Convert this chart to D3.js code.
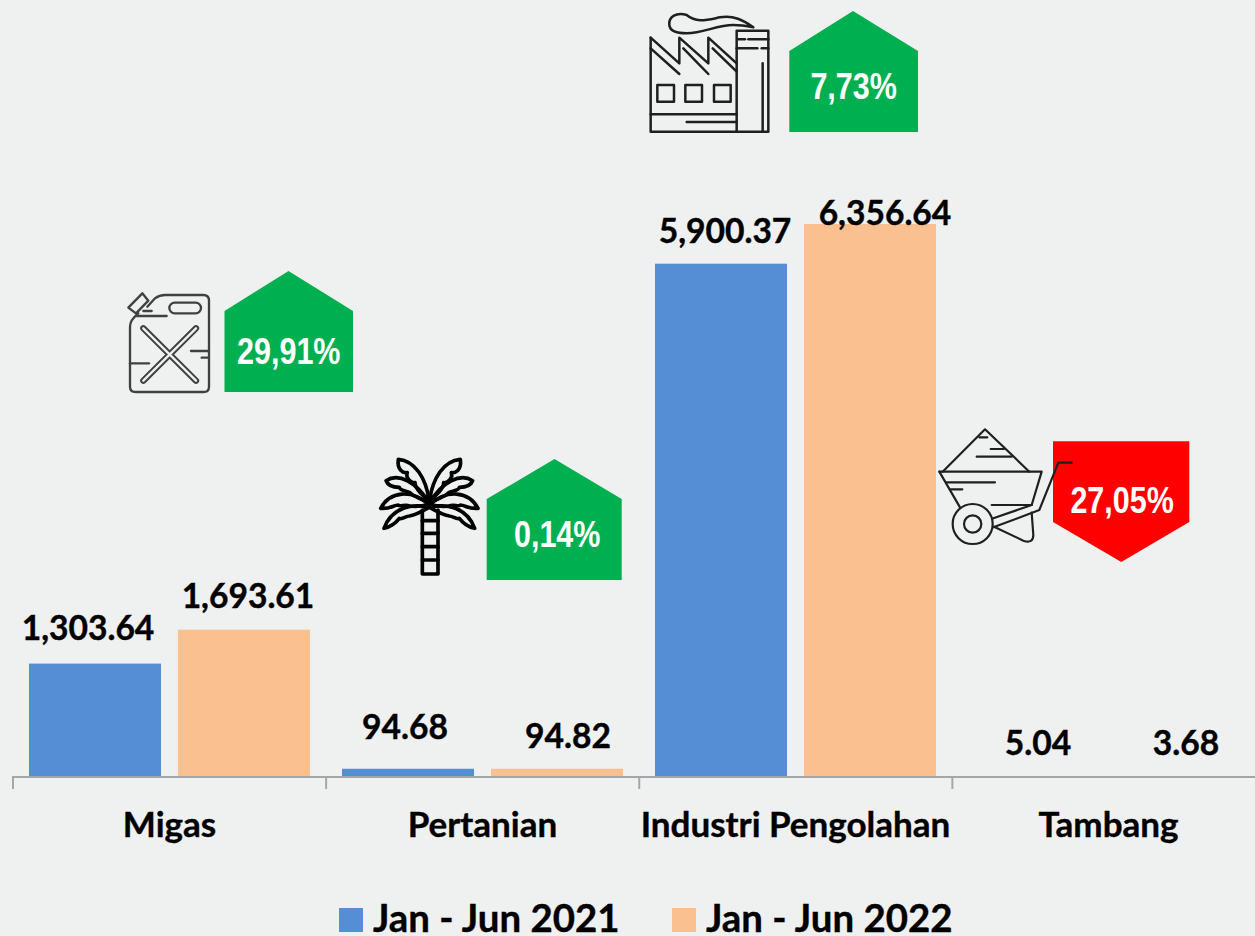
<!DOCTYPE html>
<html><head><meta charset="utf-8">
<script src="https://cdn.jsdelivr.net/npm/d3@7/dist/d3.min.js"></script>
<style>html,body{margin:0;padding:0;background:#eff1f0;overflow:hidden}svg{display:block}
text{font-family:Lato,"Open Sans",sans-serif;font-weight:700;fill:#000}</style></head>
<body><svg id="c" width="1255" height="936"></svg>
<script>
const categories = ["Migas","Pertanian","Industri Pengolahan","Tambang"];
const seriesNames = ["Jan - Jun 2021","Jan - Jun 2022"];
const values2021 = [1303.64,94.68,5900.37,5.04];
const values2022 = [1693.61,94.82,6356.64,3.68];
const changeLabels = ["29,91%","0,14%","7,73%","27,05%"];
const changeDirections = ["up","up","up","down"];

const colors = ["#558ed5","#fac090"];
const bg = "#eff1f0";
const svg = d3.select("#c");
svg.append("rect").attr("width",1255).attr("height",936).attr("fill",bg);

const baseY = 777;
const x0 = d3.scaleBand().domain(categories).range([12,1264]).paddingInner(0).paddingOuter(0);
const x1 = d3.scaleBand().domain([0,1]).range([17,298]).paddingInner(0.114).paddingOuter(0);
const y = d3.scaleLinear().domain([0,6356.64]).range([baseY,224]);
const series = [values2021,values2022];

// bars
series.forEach((vals,s)=>{
  svg.append("g").selectAll("rect").data(vals).join("rect")
    .attr("x",(d,i)=>x0(categories[i])+x1(s))
    .attr("width",x1.bandwidth())
    .attr("y",d=>y(d))
    .attr("height",d=>baseY-y(d))
    .attr("fill",colors[s]);
});

// axis: separators
const edges = d3.scaleLinear().domain([0,4]).range([12.5,1265]);
const sepAxis = d3.axisBottom(edges).tickValues([0,1,2,3]).tickSize(12).tickFormat("");
const gSep = svg.append("g").attr("transform",`translate(0,${baseY})`).call(sepAxis);
gSep.select(".domain").attr("d","M12,0H1255").attr("stroke","#a6a6a6").attr("stroke-width",2);
gSep.selectAll(".tick line").attr("stroke","#a6a6a6").attr("stroke-width",2);
// axis: labels
const xLab = d3.scaleBand().domain(categories).range([13,1265]);
const labAxis = d3.axisBottom(xLab).tickSize(0).tickPadding(35);
const gLab = svg.append("g").attr("transform",`translate(0,${baseY})`).call(labAxis);
gLab.select(".domain").remove();
gLab.selectAll("text").attr("font-size",35).style("font-family","Lato").style("font-weight",700)
  .attr("fill","#000").attr("stroke","#000").attr("stroke-width",0.4).attr("dy","0.71em");

// value labels (hand-placed in the original, hence offsets from bar centre / baseline)
const labelDx = [[-7,4],[-3,11],[4,15],[4,3]];
const labelBase = [[640,608],[739,748],[243,225],[755,755]];
const fmt = d3.format(",.2f");
series.forEach((vals,s)=>{
  svg.append("g").selectAll("text").data(vals).join("text")
    .attr("x",(d,i)=>x0(categories[i])+x1(s)+x1.bandwidth()/2+labelDx[i][s])
    .attr("y",(d,i)=>labelBase[i][s])
    .attr("text-anchor","middle").attr("font-size",33.6)
    .attr("stroke","#000").attr("stroke-width",0.4)
    .text(d=>fmt(d));
});

// legend
const legendX = [339,672], legendTextX=[373,706];
seriesNames.forEach((n,i)=>{
  svg.append("rect").attr("x",legendX[i]).attr("y",908).attr("width",24).attr("height",24).attr("fill",colors[i]);
  svg.append("text").attr("x",legendTextX[i]).attr("y",932).attr("font-size",38.4)
    .attr("stroke","#000").attr("stroke-width",0.4).text(n);
});

// badges
const badges = [
  {l:224.5,r:353,p:288.5,t:271,b:392,tx:0,ty:364},
  {l:486.7,r:621.7,p:554.5,t:459,b:580,tx:3,ty:547},
  {l:789.3,r:918,p:853,t:11,b:132,tx:0,ty:99},
  {l:1053,r:1189.3,p:1121.3,t:441.3,b:562,tx:1,ty:513}
];
badges.forEach((b,i)=>{
  const up = changeDirections[i]==="up";
  const pts = up
    ? [[b.l,b.b],[b.l,b.t+40],[b.p,b.t],[b.r,b.t+40],[b.r,b.b]]
    : [[b.l,b.t],[b.r,b.t],[b.r,b.b-40],[b.p,b.b],[b.l,b.b-40]];
  svg.append("path").attr("d",d3.line()(pts)+"Z").attr("fill",up?"#00b050":"#ff0000");
  svg.append("text").attr("transform",`translate(${(b.l+b.r)/2+b.tx},${b.ty}) scale(0.825,1)`)
    .attr("text-anchor","middle").attr("font-size",37)
    .style("font-family",'"Liberation Sans"').style("fill","#fff")
    .text(changeLabels[i]);
});

// icons: drawn in crop coordinates (3x) then scaled
function icon(tx,ty,color,sw){
  return svg.append("g").attr("transform",`translate(${tx},${ty}) scale(${1/3})`)
    .attr("fill","none").attr("stroke",color).attr("stroke-width",sw)
    .attr("stroke-linecap","round").attr("stroke-linejoin","round");
}
function paths(g,list){list.forEach(d=>g.append("path").attr("d",d));}

// jerry can
const jc = icon(110,260,"#404040",7);
paths(jc,[
 "M112,140L135,115Q148,105 165,105L280,105Q297,105 297,122L297,380Q297,396 280,396L78,396Q60,396 60,380L60,200Q60,180 85,160",
 "M55,143L97,100L115,122L78,160Z",
 "M194,128H257A16,16 0 0 1 257,160H194A16,16 0 0 1 194,128Z",
 "M100,153H125","M78,168H170","M243,273H297","M275,293H297","M60,310H117"
]);
const armOuter = ["M100,205L258,362","M258,205L100,362"];
armOuter.forEach(d=>jc.append("path").attr("d",d).attr("stroke-width",19));
armOuter.forEach(d=>jc.append("path").attr("d",d).attr("stroke-width",7).attr("stroke",bg));

// factory
const fa = icon(640,0,"#1f1f1f",7.5);
paths(fa,[
 "M32,113V395H385V92H290V395",
 "M32,113L118,190V113L205,190V113L290,190",
 "M32,145L118,222","M130,145L205,222","M218,145L290,215",
 "M52,255h50v50h-50Z","M136,255h50v50h-50Z","M222,255h50v50h-50Z",
 "M32,343H290","M140,366H290",
 "M295,118H315","M325,118H385","M290,145H352","M365,145H385","M368,190V395",
 "M340,82C310,60 280,45 240,52C200,60 170,70 140,45C110,35 85,50 88,75C90,95 110,100 140,100C190,100 230,75 280,75C300,75 320,78 340,82"
]);

// palm
const pa = icon(370,450,"#000",11);
const fronds = [
 "M177,150C168,85 135,32 85,28C80,60 100,70 112,68C105,85 125,100 135,98C135,115 160,140 177,150Z",
 "M177,158C140,95 85,68 48,92C55,112 80,112 88,112C90,125 115,122 120,128C130,140 160,150 177,158Z",
 "M177,163C125,118 60,122 32,175C60,178 70,165 85,165C90,172 105,162 118,168C135,170 160,168 177,163Z",
 "M177,172C125,160 65,172 42,235C65,230 78,218 88,205C95,210 108,198 118,198C135,195 160,182 177,172Z"
];
paths(pa,fronds);
const paM = pa.append("g").attr("transform","translate(356,0) scale(-1,1)");
paths(paM,fronds);
paths(pa,[
 "M157,180V372H204V180","M157,212H204","M157,250H204","M157,290H204","M157,330H204"
]);
pa.append("circle").attr("cx",178).attr("cy",165).attr("r",11).attr("fill","#000").attr("stroke","none");

// wheelbarrow
const wb = icon(930,420,"#1f1f1f",6.5);
paths(wb,[
 "M38,155L165,28L298,155",
 "M28,155H335L305,255","M28,155L90,262",
 "M148,52H172","M182,87H222","M140,110H245","M50,187H195","M62,208H97","M185,255H305",
 "M425,128H385L328,270L190,322","M305,255L190,295",
 "M192,320L280,362Q310,372 310,345L305,278"
]);
wb.append("circle").attr("cx",128).attr("cy",312).attr("r",60);
wb.append("circle").attr("cx",128).attr("cy",312).attr("r",26);
</script></body></html>
